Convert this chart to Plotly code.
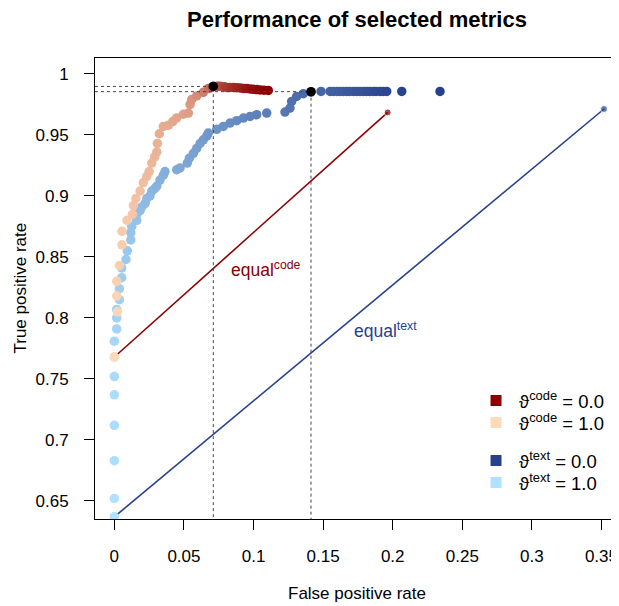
import plotly.graph_objects as go

# ---- data ----
code_fpr = [0.0000, 0.0022, 0.0017, 0.0017, 0.0036, 0.0055, 0.0055, 0.0091, 0.0130, 0.0137,
            0.0155, 0.0185, 0.0208, 0.0233, 0.0250, 0.0269, 0.0290, 0.0305, 0.0309, 0.0323,
            0.0352, 0.0388, 0.0420, 0.0448, 0.0496, 0.0532, 0.0544, 0.0556, 0.0592, 0.0639,
            0.0675, 0.0700, 0.0711, 0.0740, 0.0759, 0.0790, 0.0807, 0.0830, 0.0855, 0.0880,
            0.0904, 0.0930, 0.0951, 0.0975, 0.0999, 0.1023, 0.1047, 0.1075, 0.1106]
code_tpr = [0.768, 0.805, 0.818, 0.830, 0.843, 0.860, 0.871, 0.880, 0.885, 0.892,
            0.898, 0.904, 0.911, 0.916, 0.920, 0.927, 0.932, 0.936, 0.943, 0.951,
            0.957, 0.958, 0.961, 0.964, 0.967, 0.968, 0.975, 0.979, 0.982, 0.985,
            0.988, 0.989, 0.990, 0.990, 0.990, 0.9895, 0.989, 0.989, 0.989, 0.9888,
            0.9885, 0.988, 0.988, 0.9877, 0.9874, 0.9872, 0.9869, 0.9867, 0.9865]
code_theta = [1.00, 0.98, 0.97, 0.96, 0.95, 0.94, 0.93, 0.92, 0.91, 0.90,
              0.89, 0.88, 0.87, 0.86, 0.85, 0.84, 0.83, 0.82, 0.81, 0.80,
              0.79, 0.78, 0.77, 0.76, 0.74, 0.72, 0.70, 0.68, 0.64, 0.58,
              0.52, 0.46, 0.42, 0.38, 0.34, 0.30, 0.27, 0.24, 0.21, 0.18,
              0.15, 0.12, 0.10, 0.08, 0.06, 0.05, 0.03, 0.02, 0.00]

text_fpr = [0.0000, 0.0000, 0.0000, 0.0000, 0.0000, 0.0000, 0.0000, 0.0000, 0.0017, 0.0017,
            0.0017, 0.0036, 0.0036, 0.0053, 0.0053, 0.0084, 0.0093, 0.0118, 0.0118, 0.0125,
            0.0161, 0.0161, 0.0185, 0.0197, 0.0221, 0.0233, 0.0256, 0.0269, 0.0290, 0.0305,
            0.0328, 0.0352, 0.0364, 0.0448, 0.0472, 0.0524, 0.0539, 0.0568, 0.0592, 0.0616,
            0.0639, 0.0664, 0.0675, 0.0736, 0.0783, 0.0831, 0.0879, 0.0927, 0.0975, 0.1023,
            0.1095, 0.1226, 0.1262, 0.1274, 0.1310, 0.1358, 0.1413, 0.1485, 0.1550, 0.1573,
            0.1600, 0.1621, 0.1645, 0.1670, 0.1690, 0.1717, 0.1740, 0.1765, 0.1790, 0.1813,
            0.1835, 0.1861, 0.1880, 0.1909, 0.1930, 0.1957, 0.2065, 0.2340]
text_tpr = [0.637, 0.652, 0.683, 0.712, 0.737, 0.752, 0.768, 0.781, 0.791, 0.800,
            0.807, 0.815, 0.824, 0.833, 0.841, 0.848, 0.855, 0.864, 0.870, 0.875,
            0.880, 0.885, 0.888, 0.891, 0.894, 0.898, 0.900, 0.904, 0.906, 0.908,
            0.913, 0.917, 0.920, 0.9215, 0.923, 0.927, 0.931, 0.935, 0.939, 0.943,
            0.946, 0.949, 0.9516, 0.9546, 0.957, 0.9598, 0.9617, 0.9639, 0.9652, 0.9666,
            0.968, 0.9688, 0.9721, 0.9775, 0.9816, 0.9838, 0.9852, 0.9857, 0.9857, 0.9857,
            0.9857, 0.9857, 0.9857, 0.9857, 0.9857, 0.9857, 0.9857, 0.9857, 0.9857, 0.9857,
            0.9857, 0.9857, 0.9857, 0.9857, 0.9857, 0.9857, 0.9857, 0.9857]
text_theta = [1.00, 0.99, 0.98, 0.97, 0.96, 0.95, 0.94, 0.93, 0.92, 0.91,
              0.90, 0.89, 0.88, 0.87, 0.86, 0.85, 0.84, 0.83, 0.82, 0.81,
              0.80, 0.79, 0.78, 0.77, 0.76, 0.75, 0.74, 0.73, 0.72, 0.71,
              0.70, 0.69, 0.68, 0.66, 0.65, 0.63, 0.62, 0.60, 0.59, 0.58,
              0.57, 0.55, 0.54, 0.52, 0.50, 0.48, 0.46, 0.44, 0.42, 0.40,
              0.38, 0.34, 0.32, 0.30, 0.28, 0.26, 0.24, 0.22, 0.21, 0.20,
              0.19, 0.18, 0.17, 0.16, 0.15, 0.14, 0.13, 0.12, 0.11, 0.10,
              0.09, 0.08, 0.07, 0.06, 0.05, 0.04, 0.02, 0.00]

equal_code_fpr = [0.0, 0.1964]
equal_code_tpr = [0.768, 0.9685]
equal_text_fpr = [0.0, 0.3518]
equal_text_tpr = [0.637, 0.9713]

best_fpr = [0.0711, 0.1413]
best_tpr = [0.9898, 0.9855]

x_range = [-0.0139, 0.3626]
y_range = [0.6352, 1.0131]
x_ticks = [0, 0.05, 0.1, 0.15, 0.2, 0.25, 0.3, 0.35]
x_ticklabels = ["0", "0.05", "0.1", "0.15", "0.2", "0.25", "0.3", "0.35"]
y_ticks = [0.65, 0.7, 0.75, 0.8, 0.85, 0.9, 0.95, 1.0]
y_ticklabels = ["0.65", "0.7", "0.75", "0.8", "0.85", "0.9", "0.95", "1"]

legend_labels = ["ϑ<sup>code</sup> = 0.0", "ϑ<sup>code</sup> = 1.0",
                 "ϑ<sup>text</sup> = 0.0", "ϑ<sup>text</sup> = 1.0"]

# ---- styles ----
RED0, RED1 = "#8B0000", "#FFDAB9"
BLUE0, BLUE1 = "#27408B", "#B0E2FF"
FONT = "Liberation Sans, Arial, DejaVu Sans, sans-serif"

fig = go.Figure()

# equal baselines
fig.add_trace(go.Scatter(x=equal_code_fpr, y=equal_code_tpr, mode="lines+markers",
                         line=dict(color=RED0, width=1.6),
                         marker=dict(color=RED0, size=[0, 7]), showlegend=False, hoverinfo="skip"))
fig.add_trace(go.Scatter(x=equal_text_fpr, y=equal_text_tpr, mode="lines+markers",
                         line=dict(color=BLUE0, width=1.6),
                         marker=dict(color=BLUE0, size=[0, 7]), showlegend=False, hoverinfo="skip"))

# series
fig.add_trace(go.Scatter(x=text_fpr, y=text_tpr, mode="markers",
                         marker=dict(color=text_theta, cmin=0, cmax=1,
                                     colorscale=[[0, BLUE0], [1, BLUE1]], size=9.5,
                                     line=dict(width=0)),
                         showlegend=False))
fig.add_trace(go.Scatter(x=code_fpr, y=code_tpr, mode="markers",
                         marker=dict(color=code_theta, cmin=0, cmax=1,
                                     colorscale=[[0, RED0], [1, RED1]], size=9.5,
                                     line=dict(width=0)),
                         showlegend=False))

# dashed guide lines
for fx, ty in zip(best_fpr, best_tpr):
    fig.add_trace(go.Scatter(x=[x_range[0], fx, fx], y=[ty, ty, y_range[0]], mode="lines",
                             line=dict(color="#444444", width=1, dash="3px,3px"),
                             showlegend=False, hoverinfo="skip"))

# best points
fig.add_trace(go.Scatter(x=best_fpr, y=best_tpr, mode="markers",
                         marker=dict(color="black", size=9.5), showlegend=False))

# legend entries: one small legend per entry so each row can be placed like the reference
leg_colors = [RED0, RED1, BLUE0, BLUE1]
leg_names = ["legend", "legend2", "legend3", "legend4"]
leg_rows_px = [401, 423, 461, 483]          # row centres in window pixels
for lab, col, lg in zip(legend_labels, leg_colors, leg_names):
    fig.add_trace(go.Scatter(x=[None], y=[None], mode="markers", name=lab, legend=lg,
                             marker=dict(symbol="square", color=col, size=11)))

leg_layout = {}
for lg, py in zip(leg_names, leg_rows_px):
    leg_layout[lg] = dict(x=0.7214, y=(519 - py) / 461, xanchor="left", yanchor="middle",
                          font=dict(family=FONT, size=18.5, color="black"),
                          bgcolor="rgba(0,0,0,0)", itemwidth=36,
                          borderwidth=0)

fig.add_annotation(x=0.109, y=0.840, text="equal<sup>code</sup>", showarrow=False,
                   font=dict(family=FONT, size=17.5, color=RED0))
fig.add_annotation(x=0.1945, y=0.790, text="equal<sup>text</sup>", showarrow=False,
                   font=dict(family=FONT, size=17.5, color=BLUE0))

# axis titles as text
fig.add_annotation(xref="paper", yref="paper", x=0.5, y=-74 / 461, yanchor="middle",
                   text="False positive rate", showarrow=False,
                   font=dict(family=FONT, size=17, color="black"))
fig.add_annotation(xref="paper", yref="paper", x=-75 / 524, y=0.5, xanchor="center",
                   text="True positive rate", showarrow=False, textangle=-90,
                   font=dict(family=FONT, size=17, color="black"))

axis_common = dict(showgrid=False, zeroline=False, showline=True, linecolor="black",
                   linewidth=1, ticks="outside", ticklen=10, tickcolor="black",
                   tickfont=dict(family=FONT, size=17, color="black"))

# the page adds an 8px body margin, so the figure is sized/offset to compensate
fig.update_layout(
    width=611, height=598,
    margin=dict(l=87, r=0, t=50, b=87),
    paper_bgcolor="white", plot_bgcolor="white",
    title=dict(text="<b>Performance of selected metrics</b>", x=0.5, xref="paper",
               xanchor="center", y=1 - 11.5 / 598, yref="container", yanchor="middle",
               font=dict(family=FONT, size=22, color="black")),
    xaxis=dict(range=x_range, tickvals=x_ticks, ticktext=x_ticklabels, mirror=True,
               ticklabelstandoff=12, **axis_common),
    yaxis=dict(range=y_range, tickvals=y_ticks, ticktext=y_ticklabels, mirror=False,
               ticklabelstandoff=12, **axis_common),
    showlegend=True,
    **leg_layout,
)

fig.write_html("out.html")
